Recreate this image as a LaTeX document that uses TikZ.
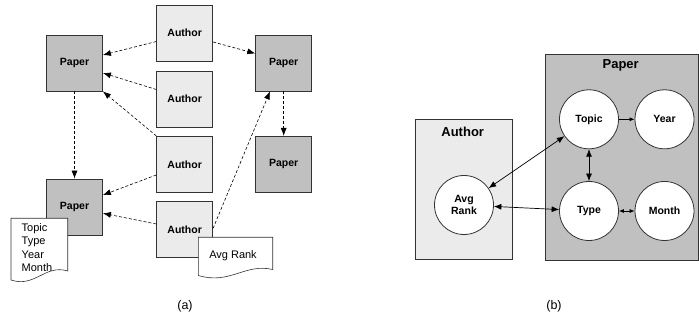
\documentclass[tikz,border=0pt]{standalone}
\usepackage{fontspec}
\setmainfont{Liberation Sans}
\usetikzlibrary{positioning, arrows.meta}
\definecolor{authorgray}{HTML}{EBEBEB}
\definecolor{papergray}{HTML}{C0C0C0}
\definecolor{edgegray}{HTML}{333333}

\begin{document}
\begin{tikzpicture}[x=1pt, y=-1pt,
    box/.style={draw=edgegray, line width=0.8pt, minimum size=56pt, inner sep=0pt,
        font=\fontsize{10.5}{12}\selectfont\bfseries},
    authorbox/.style={box, fill=authorgray},
    paperbox/.style={box, fill=papergray},
    link/.style={dash pattern=on 3pt off 2pt, line width=0.6pt,
        -{Latex[length=8pt,width=6pt]}},
    docbox/.style={draw=edgegray, fill=white, line width=0.6pt},
    container/.style={draw=edgegray, line width=0.8pt, inner sep=0pt},
    title/.style={font=\fontsize{13}{15}\selectfont\bfseries, inner sep=0pt},
    attr/.style={circle, draw=edgegray, fill=white, line width=0.8pt, minimum size=59pt,
        inner sep=0pt, align=center, font=\fontsize{10.5}{12}\selectfont\bfseries},
    dep/.style={line width=0.7pt, {Latex[length=7.5pt,width=6pt]}-{Latex[length=7.5pt,width=6pt]}},
    shortdep/.style={line width=0.7pt},
]
\useasboundingbox (0,0) rectangle (699,320);

% (a) papers and authors
\node[paperbox] (p1) at (74.5,63)    {Paper};
\node[paperbox] (p2) at (74.5,207)   {Paper};
\node[paperbox] (p3) at (283.7,63)   {Paper};
\node[paperbox] (p4) at (283.7,164.3) {Paper};
\foreach \y [count=\i] in {33,99,164.3,229.7}{
    \node[authorbox] (a\i) at (184.7,\y) {Author};
}

\draw[link] ([yshift=-8.5pt]a1.west) -- ([yshift=8pt]p1.east);
\draw[link] ([yshift=-9pt]a1.east)   -- ([yshift=9.5pt]p3.west);
\draw[link] ([yshift=9.5pt]a2.west)  -- ([yshift=-10pt]p1.east);
\draw[link] (a3.north west)          -- (p1.south east);
\draw[link] (p1) -- (p2);
\draw[link] ([yshift=-10.7pt]a3.west) -- ([yshift=12pt]p2.east);
\draw[link] ([yshift=5.7pt]a4.west)   -- ([yshift=-6.3pt]p2.east);
\draw[link] ([yshift=1.4pt]a4.east)   -- ([xshift=-13.7pt]p3.south);
\draw[link] (p3) -- (p4);

% attribute sheets
\draw[docbox] (11,218.3) -- (67.7,218.3) -- (67.7,271)
    .. controls (45,264) and (35,288) .. (11,280) -- cycle;
\node[anchor=north west, align=left, inner sep=0pt,
    font=\fontsize{11}{13.5}\selectfont] (pattr) at (21.5,223.3)
    {Topic\\Type\\Year\\Month};

\draw[docbox] (198.3,237.3) -- (272.7,237.3) -- (272.7,269.5)
    .. controls (245,263) and (230,285) .. (198.3,275.5) -- cycle;
\node[font=\fontsize{11}{13}\selectfont] (aattr) at (233,256) {Avg Rank};

\node[font=\fontsize{12.5}{14}\selectfont] (capa) at (185,306.7) {(a)};

% (b) attribute model
\node[container, fill=authorgray, minimum width=97.3pt, minimum height=140pt]
    (authorc) at (463.7,189.3) {};
\node[container, fill=papergray, minimum width=153pt, minimum height=206pt]
    (paperc) at (621.5,157) {};
\node[title] (authort) at (462.7,131.7) {Author};
\node[title] (papert)  at (620.7,65)    {Paper};

\node[attr] (topic) at (589,119.3)   {Topic};
\node[attr] (year)  at (664.5,119.3) {Year};
\node[attr] (type)  at (589,211)     {Type};
\node[attr] (month) at (664.5,211)   {Month};
\node[attr] (avg)   at (464,205)     {Avg\\Rank};

\draw[dep] (avg) -- (topic);
\draw[dep] (avg) -- (type);
\draw[dep] (topic) -- (type);
\draw[shortdep, -{Latex[length=5pt,width=4pt]}] (topic) -- (year);
\draw[shortdep, {Latex[length=5pt,width=4pt]}-{Latex[length=5pt,width=4pt]}] (type) -- (month);

\node[font=\fontsize{12.5}{14}\selectfont] (capb) at (554,306.7) {(b)};

\end{tikzpicture}
\end{document}
